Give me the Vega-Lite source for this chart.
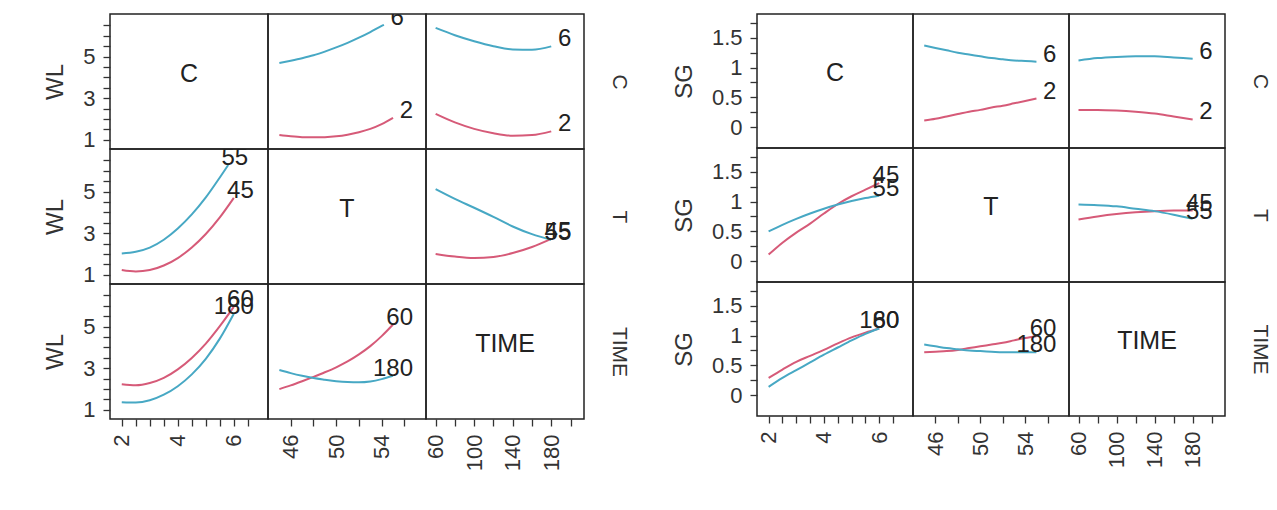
{
  "$schema": "https://vega.github.io/schema/vega-lite/v6.json",
  "padding": {"left": 43, "top": 11, "right": 5, "bottom": 5},
  "config": {
    "font": "Liberation Sans",
    "view": {"stroke": "#222", "strokeWidth": 1.5},
    "axis": {"domain": false, "grid": false, "tickColor": "#333", "tickWidth": 1.3, "tickSize": 7, "labelFontSize": 22, "labelColor": "#333", "labelPadding": 8, "labelOverlap": false, "labelFlush": false, "labelBound": false, "titleFontSize": 24, "titleFontWeight": "normal", "titleColor": "#333", "titlePadding": 15}
  },
  "datasets": {
    "d": [
      {"m":"WL","r":"C","c":"T","lvl":"2","x":45,"y":1.22},{"m":"WL","r":"C","c":"T","lvl":"2","x":46,"y":1.16},{"m":"WL","r":"C","c":"T","lvl":"2","x":47,"y":1.12},{"m":"WL","r":"C","c":"T","lvl":"2","x":48,"y":1.11},{"m":"WL","r":"C","c":"T","lvl":"2","x":49,"y":1.12},{"m":"WL","r":"C","c":"T","lvl":"2","x":50,"y":1.16},{"m":"WL","r":"C","c":"T","lvl":"2","x":51,"y":1.24},{"m":"WL","r":"C","c":"T","lvl":"2","x":52,"y":1.36},{"m":"WL","r":"C","c":"T","lvl":"2","x":53,"y":1.52},{"m":"WL","r":"C","c":"T","lvl":"2","x":54,"y":1.75},{"m":"WL","r":"C","c":"T","lvl":"2","x":55,"y":2.05},
      {"m":"WL","r":"C","c":"T","lvl":"6","x":45,"y":4.69},{"m":"WL","r":"C","c":"T","lvl":"6","x":46,"y":4.80},{"m":"WL","r":"C","c":"T","lvl":"6","x":47,"y":4.92},{"m":"WL","r":"C","c":"T","lvl":"6","x":48,"y":5.06},{"m":"WL","r":"C","c":"T","lvl":"6","x":49,"y":5.24},{"m":"WL","r":"C","c":"T","lvl":"6","x":50,"y":5.44},{"m":"WL","r":"C","c":"T","lvl":"6","x":51,"y":5.66},{"m":"WL","r":"C","c":"T","lvl":"6","x":52,"y":5.91},{"m":"WL","r":"C","c":"T","lvl":"6","x":53,"y":6.18},{"m":"WL","r":"C","c":"T","lvl":"6","x":54,"y":6.48},{"m":"WL","r":"C","c":"T","lvl":"6","x":54.2,"y":6.53},
      {"m":"WL","r":"C","c":"TIME","lvl":"2","x":60,"y":2.24},{"m":"WL","r":"C","c":"TIME","lvl":"2","x":80,"y":1.83},{"m":"WL","r":"C","c":"TIME","lvl":"2","x":100,"y":1.52},{"m":"WL","r":"C","c":"TIME","lvl":"2","x":120,"y":1.31},{"m":"WL","r":"C","c":"TIME","lvl":"2","x":140,"y":1.19},{"m":"WL","r":"C","c":"TIME","lvl":"2","x":160,"y":1.22},{"m":"WL","r":"C","c":"TIME","lvl":"2","x":180,"y":1.40},
      {"m":"WL","r":"C","c":"TIME","lvl":"6","x":60,"y":6.38},{"m":"WL","r":"C","c":"TIME","lvl":"6","x":80,"y":6.03},{"m":"WL","r":"C","c":"TIME","lvl":"6","x":100,"y":5.74},{"m":"WL","r":"C","c":"TIME","lvl":"6","x":120,"y":5.50},{"m":"WL","r":"C","c":"TIME","lvl":"6","x":140,"y":5.34},{"m":"WL","r":"C","c":"TIME","lvl":"6","x":160,"y":5.33},{"m":"WL","r":"C","c":"TIME","lvl":"6","x":180,"y":5.49},
      {"m":"WL","r":"T","c":"C","lvl":"45","x":2,"y":1.22},{"m":"WL","r":"T","c":"C","lvl":"45","x":2.5,"y":1.15},{"m":"WL","r":"T","c":"C","lvl":"45","x":3,"y":1.22},{"m":"WL","r":"T","c":"C","lvl":"45","x":3.5,"y":1.44},{"m":"WL","r":"T","c":"C","lvl":"45","x":4,"y":1.80},{"m":"WL","r":"T","c":"C","lvl":"45","x":4.5,"y":2.31},{"m":"WL","r":"T","c":"C","lvl":"45","x":5,"y":2.96},{"m":"WL","r":"T","c":"C","lvl":"45","x":5.5,"y":3.76},{"m":"WL","r":"T","c":"C","lvl":"45","x":6,"y":4.70},
      {"m":"WL","r":"T","c":"C","lvl":"55","x":2,"y":2.02},{"m":"WL","r":"T","c":"C","lvl":"55","x":2.5,"y":2.10},{"m":"WL","r":"T","c":"C","lvl":"55","x":3,"y":2.30},{"m":"WL","r":"T","c":"C","lvl":"55","x":3.5,"y":2.68},{"m":"WL","r":"T","c":"C","lvl":"55","x":4,"y":3.22},{"m":"WL","r":"T","c":"C","lvl":"55","x":4.5,"y":3.90},{"m":"WL","r":"T","c":"C","lvl":"55","x":5,"y":4.72},{"m":"WL","r":"T","c":"C","lvl":"55","x":5.5,"y":5.68},{"m":"WL","r":"T","c":"C","lvl":"55","x":5.8,"y":6.28},
      {"m":"WL","r":"T","c":"TIME","lvl":"45","x":60,"y":2.00},{"m":"WL","r":"T","c":"TIME","lvl":"45","x":80,"y":1.87},{"m":"WL","r":"T","c":"TIME","lvl":"45","x":100,"y":1.80},{"m":"WL","r":"T","c":"TIME","lvl":"45","x":120,"y":1.85},{"m":"WL","r":"T","c":"TIME","lvl":"45","x":140,"y":2.04},{"m":"WL","r":"T","c":"TIME","lvl":"45","x":160,"y":2.33},{"m":"WL","r":"T","c":"TIME","lvl":"45","x":180,"y":2.72},
      {"m":"WL","r":"T","c":"TIME","lvl":"55","x":60,"y":5.12},{"m":"WL","r":"T","c":"TIME","lvl":"55","x":80,"y":4.65},{"m":"WL","r":"T","c":"TIME","lvl":"55","x":100,"y":4.22},{"m":"WL","r":"T","c":"TIME","lvl":"55","x":120,"y":3.78},{"m":"WL","r":"T","c":"TIME","lvl":"55","x":140,"y":3.32},{"m":"WL","r":"T","c":"TIME","lvl":"55","x":160,"y":2.95},{"m":"WL","r":"T","c":"TIME","lvl":"55","x":180,"y":2.68},
      {"m":"WL","r":"TIME","c":"C","lvl":"60","x":2,"y":2.22},{"m":"WL","r":"TIME","c":"C","lvl":"60","x":2.5,"y":2.17},{"m":"WL","r":"TIME","c":"C","lvl":"60","x":3,"y":2.28},{"m":"WL","r":"TIME","c":"C","lvl":"60","x":3.5,"y":2.53},{"m":"WL","r":"TIME","c":"C","lvl":"60","x":4,"y":2.94},{"m":"WL","r":"TIME","c":"C","lvl":"60","x":4.5,"y":3.49},{"m":"WL","r":"TIME","c":"C","lvl":"60","x":5,"y":4.18},{"m":"WL","r":"TIME","c":"C","lvl":"60","x":5.5,"y":5.02},{"m":"WL","r":"TIME","c":"C","lvl":"60","x":6,"y":5.95},
      {"m":"WL","r":"TIME","c":"C","lvl":"180","x":2,"y":1.36},{"m":"WL","r":"TIME","c":"C","lvl":"180","x":2.5,"y":1.34},{"m":"WL","r":"TIME","c":"C","lvl":"180","x":3,"y":1.45},{"m":"WL","r":"TIME","c":"C","lvl":"180","x":3.5,"y":1.72},{"m":"WL","r":"TIME","c":"C","lvl":"180","x":4,"y":2.13},{"m":"WL","r":"TIME","c":"C","lvl":"180","x":4.5,"y":2.70},{"m":"WL","r":"TIME","c":"C","lvl":"180","x":5,"y":3.45},{"m":"WL","r":"TIME","c":"C","lvl":"180","x":5.5,"y":4.42},{"m":"WL","r":"TIME","c":"C","lvl":"180","x":6,"y":5.62},
      {"m":"WL","r":"TIME","c":"T","lvl":"60","x":45,"y":1.99},{"m":"WL","r":"TIME","c":"T","lvl":"60","x":46,"y":2.17},{"m":"WL","r":"TIME","c":"T","lvl":"60","x":47,"y":2.37},{"m":"WL","r":"TIME","c":"T","lvl":"60","x":48,"y":2.58},{"m":"WL","r":"TIME","c":"T","lvl":"60","x":49,"y":2.80},{"m":"WL","r":"TIME","c":"T","lvl":"60","x":50,"y":3.04},{"m":"WL","r":"TIME","c":"T","lvl":"60","x":51,"y":3.32},{"m":"WL","r":"TIME","c":"T","lvl":"60","x":52,"y":3.66},{"m":"WL","r":"TIME","c":"T","lvl":"60","x":53,"y":4.06},{"m":"WL","r":"TIME","c":"T","lvl":"60","x":54,"y":4.54},{"m":"WL","r":"TIME","c":"T","lvl":"60","x":55,"y":5.10},
      {"m":"WL","r":"TIME","c":"T","lvl":"180","x":45,"y":2.91},{"m":"WL","r":"TIME","c":"T","lvl":"180","x":46,"y":2.76},{"m":"WL","r":"TIME","c":"T","lvl":"180","x":47,"y":2.63},{"m":"WL","r":"TIME","c":"T","lvl":"180","x":48,"y":2.52},{"m":"WL","r":"TIME","c":"T","lvl":"180","x":49,"y":2.44},{"m":"WL","r":"TIME","c":"T","lvl":"180","x":50,"y":2.37},{"m":"WL","r":"TIME","c":"T","lvl":"180","x":51,"y":2.33},{"m":"WL","r":"TIME","c":"T","lvl":"180","x":52,"y":2.32},{"m":"WL","r":"TIME","c":"T","lvl":"180","x":53,"y":2.36},{"m":"WL","r":"TIME","c":"T","lvl":"180","x":54,"y":2.47},{"m":"WL","r":"TIME","c":"T","lvl":"180","x":55,"y":2.63},
      {"m":"SG","r":"C","c":"T","lvl":"2","x":45,"y":0.11},{"m":"SG","r":"C","c":"T","lvl":"2","x":46,"y":0.14},{"m":"SG","r":"C","c":"T","lvl":"2","x":47,"y":0.18},{"m":"SG","r":"C","c":"T","lvl":"2","x":48,"y":0.22},{"m":"SG","r":"C","c":"T","lvl":"2","x":49,"y":0.26},{"m":"SG","r":"C","c":"T","lvl":"2","x":50,"y":0.29},{"m":"SG","r":"C","c":"T","lvl":"2","x":51,"y":0.33},{"m":"SG","r":"C","c":"T","lvl":"2","x":52,"y":0.36},{"m":"SG","r":"C","c":"T","lvl":"2","x":53,"y":0.40},{"m":"SG","r":"C","c":"T","lvl":"2","x":54,"y":0.44},{"m":"SG","r":"C","c":"T","lvl":"2","x":55,"y":0.48},
      {"m":"SG","r":"C","c":"T","lvl":"6","x":45,"y":1.37},{"m":"SG","r":"C","c":"T","lvl":"6","x":46,"y":1.33},{"m":"SG","r":"C","c":"T","lvl":"6","x":47,"y":1.29},{"m":"SG","r":"C","c":"T","lvl":"6","x":48,"y":1.25},{"m":"SG","r":"C","c":"T","lvl":"6","x":49,"y":1.22},{"m":"SG","r":"C","c":"T","lvl":"6","x":50,"y":1.19},{"m":"SG","r":"C","c":"T","lvl":"6","x":51,"y":1.16},{"m":"SG","r":"C","c":"T","lvl":"6","x":52,"y":1.14},{"m":"SG","r":"C","c":"T","lvl":"6","x":53,"y":1.12},{"m":"SG","r":"C","c":"T","lvl":"6","x":54,"y":1.11},{"m":"SG","r":"C","c":"T","lvl":"6","x":55,"y":1.10},
      {"m":"SG","r":"C","c":"TIME","lvl":"2","x":60,"y":0.29},{"m":"SG","r":"C","c":"TIME","lvl":"2","x":80,"y":0.29},{"m":"SG","r":"C","c":"TIME","lvl":"2","x":100,"y":0.28},{"m":"SG","r":"C","c":"TIME","lvl":"2","x":120,"y":0.26},{"m":"SG","r":"C","c":"TIME","lvl":"2","x":140,"y":0.23},{"m":"SG","r":"C","c":"TIME","lvl":"2","x":160,"y":0.18},{"m":"SG","r":"C","c":"TIME","lvl":"2","x":180,"y":0.13},
      {"m":"SG","r":"C","c":"TIME","lvl":"6","x":60,"y":1.12},{"m":"SG","r":"C","c":"TIME","lvl":"6","x":80,"y":1.16},{"m":"SG","r":"C","c":"TIME","lvl":"6","x":100,"y":1.18},{"m":"SG","r":"C","c":"TIME","lvl":"6","x":120,"y":1.19},{"m":"SG","r":"C","c":"TIME","lvl":"6","x":140,"y":1.19},{"m":"SG","r":"C","c":"TIME","lvl":"6","x":160,"y":1.17},{"m":"SG","r":"C","c":"TIME","lvl":"6","x":180,"y":1.15},
      {"m":"SG","r":"T","c":"C","lvl":"45","x":2,"y":0.11},{"m":"SG","r":"T","c":"C","lvl":"45","x":2.5,"y":0.31},{"m":"SG","r":"T","c":"C","lvl":"45","x":3,"y":0.48},{"m":"SG","r":"T","c":"C","lvl":"45","x":3.5,"y":0.63},{"m":"SG","r":"T","c":"C","lvl":"45","x":4,"y":0.80},{"m":"SG","r":"T","c":"C","lvl":"45","x":4.5,"y":0.96},{"m":"SG","r":"T","c":"C","lvl":"45","x":5,"y":1.09},{"m":"SG","r":"T","c":"C","lvl":"45","x":5.5,"y":1.20},{"m":"SG","r":"T","c":"C","lvl":"45","x":6,"y":1.31},
      {"m":"SG","r":"T","c":"C","lvl":"55","x":2,"y":0.50},{"m":"SG","r":"T","c":"C","lvl":"55","x":2.5,"y":0.61},{"m":"SG","r":"T","c":"C","lvl":"55","x":3,"y":0.71},{"m":"SG","r":"T","c":"C","lvl":"55","x":3.5,"y":0.80},{"m":"SG","r":"T","c":"C","lvl":"55","x":4,"y":0.88},{"m":"SG","r":"T","c":"C","lvl":"55","x":4.5,"y":0.95},{"m":"SG","r":"T","c":"C","lvl":"55","x":5,"y":1.01},{"m":"SG","r":"T","c":"C","lvl":"55","x":5.5,"y":1.06},{"m":"SG","r":"T","c":"C","lvl":"55","x":6,"y":1.10},
      {"m":"SG","r":"T","c":"TIME","lvl":"45","x":60,"y":0.70},{"m":"SG","r":"T","c":"TIME","lvl":"45","x":80,"y":0.75},{"m":"SG","r":"T","c":"TIME","lvl":"45","x":100,"y":0.79},{"m":"SG","r":"T","c":"TIME","lvl":"45","x":120,"y":0.82},{"m":"SG","r":"T","c":"TIME","lvl":"45","x":140,"y":0.84},{"m":"SG","r":"T","c":"TIME","lvl":"45","x":160,"y":0.85},{"m":"SG","r":"T","c":"TIME","lvl":"45","x":180,"y":0.85},
      {"m":"SG","r":"T","c":"TIME","lvl":"55","x":60,"y":0.95},{"m":"SG","r":"T","c":"TIME","lvl":"55","x":80,"y":0.94},{"m":"SG","r":"T","c":"TIME","lvl":"55","x":100,"y":0.92},{"m":"SG","r":"T","c":"TIME","lvl":"55","x":120,"y":0.88},{"m":"SG","r":"T","c":"TIME","lvl":"55","x":140,"y":0.84},{"m":"SG","r":"T","c":"TIME","lvl":"55","x":160,"y":0.78},{"m":"SG","r":"T","c":"TIME","lvl":"55","x":180,"y":0.71},
      {"m":"SG","r":"TIME","c":"C","lvl":"60","x":2,"y":0.29},{"m":"SG","r":"TIME","c":"C","lvl":"60","x":2.5,"y":0.43},{"m":"SG","r":"TIME","c":"C","lvl":"60","x":3,"y":0.56},{"m":"SG","r":"TIME","c":"C","lvl":"60","x":3.5,"y":0.66},{"m":"SG","r":"TIME","c":"C","lvl":"60","x":4,"y":0.76},{"m":"SG","r":"TIME","c":"C","lvl":"60","x":4.5,"y":0.87},{"m":"SG","r":"TIME","c":"C","lvl":"60","x":5,"y":0.97},{"m":"SG","r":"TIME","c":"C","lvl":"60","x":5.5,"y":1.05},{"m":"SG","r":"TIME","c":"C","lvl":"60","x":6,"y":1.12},
      {"m":"SG","r":"TIME","c":"C","lvl":"180","x":2,"y":0.14},{"m":"SG","r":"TIME","c":"C","lvl":"180","x":2.5,"y":0.29},{"m":"SG","r":"TIME","c":"C","lvl":"180","x":3,"y":0.42},{"m":"SG","r":"TIME","c":"C","lvl":"180","x":3.5,"y":0.55},{"m":"SG","r":"TIME","c":"C","lvl":"180","x":4,"y":0.68},{"m":"SG","r":"TIME","c":"C","lvl":"180","x":4.5,"y":0.80},{"m":"SG","r":"TIME","c":"C","lvl":"180","x":5,"y":0.92},{"m":"SG","r":"TIME","c":"C","lvl":"180","x":5.5,"y":1.03},{"m":"SG","r":"TIME","c":"C","lvl":"180","x":6,"y":1.12},
      {"m":"SG","r":"TIME","c":"T","lvl":"60","x":45,"y":0.72},{"m":"SG","r":"TIME","c":"T","lvl":"60","x":46,"y":0.73},{"m":"SG","r":"TIME","c":"T","lvl":"60","x":47,"y":0.74},{"m":"SG","r":"TIME","c":"T","lvl":"60","x":48,"y":0.76},{"m":"SG","r":"TIME","c":"T","lvl":"60","x":49,"y":0.79},{"m":"SG","r":"TIME","c":"T","lvl":"60","x":50,"y":0.82},{"m":"SG","r":"TIME","c":"T","lvl":"60","x":51,"y":0.85},{"m":"SG","r":"TIME","c":"T","lvl":"60","x":52,"y":0.88},{"m":"SG","r":"TIME","c":"T","lvl":"60","x":53,"y":0.92},{"m":"SG","r":"TIME","c":"T","lvl":"60","x":54,"y":0.96},{"m":"SG","r":"TIME","c":"T","lvl":"60","x":55,"y":0.99},
      {"m":"SG","r":"TIME","c":"T","lvl":"180","x":45,"y":0.85},{"m":"SG","r":"TIME","c":"T","lvl":"180","x":46,"y":0.82},{"m":"SG","r":"TIME","c":"T","lvl":"180","x":47,"y":0.79},{"m":"SG","r":"TIME","c":"T","lvl":"180","x":48,"y":0.77},{"m":"SG","r":"TIME","c":"T","lvl":"180","x":49,"y":0.75},{"m":"SG","r":"TIME","c":"T","lvl":"180","x":50,"y":0.74},{"m":"SG","r":"TIME","c":"T","lvl":"180","x":51,"y":0.73},{"m":"SG","r":"TIME","c":"T","lvl":"180","x":52,"y":0.72},{"m":"SG","r":"TIME","c":"T","lvl":"180","x":53,"y":0.72},{"m":"SG","r":"TIME","c":"T","lvl":"180","x":54,"y":0.72},{"m":"SG","r":"TIME","c":"T","lvl":"180","x":55,"y":0.72}
    ]
  },
  "spacing": 41,
  "hconcat": [
    {
      "columns": 3, "spacing": 0, "bounds": "flush",
      "resolve": {"scale": {"x": "independent", "y": "independent", "color": "independent"}},
      "concat": [
        {"width": 158, "height": 135, "data": {"values": [{"t": "C"}]},
         "mark": {"type": "text", "fontSize": 25, "baseline": "alphabetic", "color": "#222"},
         "encoding": {"x": {"datum": 4.4, "type": "quantitative", "scale": {"domain": [1.58, 7.22], "nice": false, "zero": false}, "axis": null},
                      "y": {"datum": 3.8, "type": "quantitative", "scale": {"domain": [0.55, 7.05], "nice": false, "zero": false}, "axis": {"title": "WL", "values": [1,1.5,2,2.5,3,3.5,4,4.5,5,5.5,6,6.5], "labelExpr": "(datum.value-1)%2===0 ? ''+datum.value : ''"}},
                      "text": {"field": "t"}}},
        {"width": 158, "height": 135, "data": {"name": "d"},
         "transform": [{"filter": "datum.m==='WL'&&datum.r==='C'&&datum.c==='T'"}],
         "encoding": {"x": {"field": "x", "type": "quantitative", "scale": {"domain": [44, 57.9], "nice": false, "zero": false}, "axis": null},
                      "y": {"field": "y", "type": "quantitative", "scale": {"domain": [0.55, 7.05], "nice": false, "zero": false}, "axis": null}},
         "layer": [
           {"mark": {"type": "line", "interpolate": "monotone", "strokeWidth": 2, "clip": true}, "encoding": {"color": {"field": "lvl", "type": "nominal", "scale": {"domain": ["2","6","45","55","60","180"], "range": ["#d65a78","#47a8c4","#d65a78","#47a8c4","#d65a78","#47a8c4"]}, "legend": null}}},
           {"transform": [{"joinaggregate": [{"op": "max", "field": "x", "as": "xm"}], "groupby": ["lvl"]}, {"filter": "datum.x===datum.xm"}],
            "mark": {"type": "text", "align": "right", "baseline": "alphabetic", "dx": 20, "fontSize": 24, "clip": true, "color": "#222"}, "encoding": {"text": {"field": "lvl"}}}
         ]},
        {"width": 158, "height": 135, "data": {"name": "d"},
         "transform": [{"filter": "datum.m==='WL'&&datum.r==='C'&&datum.c==='TIME'"}],
         "encoding": {"x": {"field": "x", "type": "quantitative", "scale": {"domain": [50, 214], "nice": false, "zero": false}, "axis": null},
                      "y": {"field": "y", "type": "quantitative", "scale": {"domain": [0.55, 7.05], "nice": false, "zero": false}, "axis": {"orient": "right", "title": "C", "labels": false, "ticks": false, "titleAngle": 90, "titlePadding": 24, "titleFontSize": 21}}},
         "layer": [
           {"mark": {"type": "line", "interpolate": "monotone", "strokeWidth": 2, "clip": true}, "encoding": {"color": {"field": "lvl", "type": "nominal", "scale": {"domain": ["2","6","45","55","60","180"], "range": ["#d65a78","#47a8c4","#d65a78","#47a8c4","#d65a78","#47a8c4"]}, "legend": null}}},
           {"transform": [{"joinaggregate": [{"op": "max", "field": "x", "as": "xm"}], "groupby": ["lvl"]}, {"filter": "datum.x===datum.xm"}],
            "mark": {"type": "text", "align": "right", "baseline": "alphabetic", "dx": 20, "fontSize": 24, "clip": true, "color": "#222"}, "encoding": {"text": {"field": "lvl"}}}
         ]},
        {"width": 158, "height": 135, "data": {"name": "d"},
         "transform": [{"filter": "datum.m==='WL'&&datum.r==='T'&&datum.c==='C'"}],
         "encoding": {"x": {"field": "x", "type": "quantitative", "scale": {"domain": [1.58, 7.22], "nice": false, "zero": false}, "axis": null},
                      "y": {"field": "y", "type": "quantitative", "scale": {"domain": [0.55, 7.05], "nice": false, "zero": false}, "axis": {"title": "WL", "values": [1,1.5,2,2.5,3,3.5,4,4.5,5,5.5,6,6.5], "labelExpr": "(datum.value-1)%2===0 ? ''+datum.value : ''"}}},
         "layer": [
           {"mark": {"type": "line", "interpolate": "monotone", "strokeWidth": 2, "clip": true}, "encoding": {"color": {"field": "lvl", "type": "nominal", "scale": {"domain": ["2","6","45","55","60","180"], "range": ["#d65a78","#47a8c4","#d65a78","#47a8c4","#d65a78","#47a8c4"]}, "legend": null}}},
           {"transform": [{"joinaggregate": [{"op": "max", "field": "x", "as": "xm"}], "groupby": ["lvl"]}, {"filter": "datum.x===datum.xm"}],
            "mark": {"type": "text", "align": "right", "baseline": "alphabetic", "dx": 20, "fontSize": 24, "clip": true, "color": "#222"}, "encoding": {"text": {"field": "lvl"}}}
         ]},
        {"width": 158, "height": 135, "data": {"values": [{"t": "T"}]},
         "mark": {"type": "text", "fontSize": 25, "baseline": "alphabetic", "color": "#222"},
         "encoding": {"x": {"datum": 50.95, "type": "quantitative", "scale": {"domain": [44, 57.9], "nice": false, "zero": false}, "axis": null},
                      "y": {"datum": 3.8, "type": "quantitative", "scale": {"domain": [0.55, 7.05], "nice": false, "zero": false}, "axis": null},
                      "text": {"field": "t"}}},
        {"width": 158, "height": 135, "data": {"name": "d"},
         "transform": [{"filter": "datum.m==='WL'&&datum.r==='T'&&datum.c==='TIME'"}],
         "encoding": {"x": {"field": "x", "type": "quantitative", "scale": {"domain": [50, 214], "nice": false, "zero": false}, "axis": null},
                      "y": {"field": "y", "type": "quantitative", "scale": {"domain": [0.55, 7.05], "nice": false, "zero": false}, "axis": {"orient": "right", "title": "T", "labels": false, "ticks": false, "titleAngle": 90, "titlePadding": 24, "titleFontSize": 21}}},
         "layer": [
           {"mark": {"type": "line", "interpolate": "monotone", "strokeWidth": 2, "clip": true}, "encoding": {"color": {"field": "lvl", "type": "nominal", "scale": {"domain": ["2","6","45","55","60","180"], "range": ["#d65a78","#47a8c4","#d65a78","#47a8c4","#d65a78","#47a8c4"]}, "legend": null}}},
           {"transform": [{"joinaggregate": [{"op": "max", "field": "x", "as": "xm"}], "groupby": ["lvl"]}, {"filter": "datum.x===datum.xm"}],
            "mark": {"type": "text", "align": "right", "baseline": "alphabetic", "dx": 20, "fontSize": 24, "clip": true, "color": "#222"}, "encoding": {"text": {"field": "lvl"}}}
         ]},
        {"width": 158, "height": 135, "data": {"name": "d"},
         "transform": [{"filter": "datum.m==='WL'&&datum.r==='TIME'&&datum.c==='C'"}],
         "encoding": {"x": {"field": "x", "type": "quantitative", "scale": {"domain": [1.58, 7.22], "nice": false, "zero": false}, "axis": {"title": null, "values": [2,2.5,3,3.5,4,4.5,5,5.5,6,6.5], "labelExpr": "datum.value%2===0 ? ''+datum.value : ''", "labelAngle": -90}},
                      "y": {"field": "y", "type": "quantitative", "scale": {"domain": [0.55, 7.05], "nice": false, "zero": false}, "axis": {"title": "WL", "values": [1,1.5,2,2.5,3,3.5,4,4.5,5,5.5,6,6.5], "labelExpr": "(datum.value-1)%2===0 ? ''+datum.value : ''"}}},
         "layer": [
           {"mark": {"type": "line", "interpolate": "monotone", "strokeWidth": 2, "clip": true}, "encoding": {"color": {"field": "lvl", "type": "nominal", "scale": {"domain": ["2","6","45","55","60","180"], "range": ["#d65a78","#47a8c4","#d65a78","#47a8c4","#d65a78","#47a8c4"]}, "legend": null}}},
           {"transform": [{"joinaggregate": [{"op": "max", "field": "x", "as": "xm"}], "groupby": ["lvl"]}, {"filter": "datum.x===datum.xm"}],
            "mark": {"type": "text", "align": "right", "baseline": "alphabetic", "dx": 20, "fontSize": 24, "clip": true, "color": "#222"}, "encoding": {"text": {"field": "lvl"}}}
         ]},
        {"width": 158, "height": 135, "data": {"name": "d"},
         "transform": [{"filter": "datum.m==='WL'&&datum.r==='TIME'&&datum.c==='T'"}],
         "encoding": {"x": {"field": "x", "type": "quantitative", "scale": {"domain": [44, 57.9], "nice": false, "zero": false}, "axis": {"title": null, "values": [46,48,50,52,54,56], "labelExpr": "(datum.value-46)%4===0 ? ''+datum.value : ''", "labelAngle": -90}},
                      "y": {"field": "y", "type": "quantitative", "scale": {"domain": [0.55, 7.05], "nice": false, "zero": false}, "axis": null}},
         "layer": [
           {"mark": {"type": "line", "interpolate": "monotone", "strokeWidth": 2, "clip": true}, "encoding": {"color": {"field": "lvl", "type": "nominal", "scale": {"domain": ["2","6","45","55","60","180"], "range": ["#d65a78","#47a8c4","#d65a78","#47a8c4","#d65a78","#47a8c4"]}, "legend": null}}},
           {"transform": [{"joinaggregate": [{"op": "max", "field": "x", "as": "xm"}], "groupby": ["lvl"]}, {"filter": "datum.x===datum.xm"}],
            "mark": {"type": "text", "align": "right", "baseline": "alphabetic", "dx": 20, "fontSize": 24, "clip": true, "color": "#222"}, "encoding": {"text": {"field": "lvl"}}}
         ]},
        {"width": 158, "height": 135, "data": {"values": [{"t": "TIME"}]},
         "mark": {"type": "text", "fontSize": 25, "baseline": "alphabetic", "color": "#222"},
         "encoding": {"x": {"datum": 132, "type": "quantitative", "scale": {"domain": [50, 214], "nice": false, "zero": false}, "axis": {"title": null, "values": [60,80,100,120,140,160,180,200], "labelExpr": "(datum.value-60)%40===0 ? ''+datum.value : ''", "labelAngle": -90}},
                      "y": {"datum": 3.8, "type": "quantitative", "scale": {"domain": [0.55, 7.05], "nice": false, "zero": false}, "axis": {"orient": "right", "title": "TIME", "labels": false, "ticks": false, "titleAngle": 90, "titlePadding": 24, "titleFontSize": 21}},
                      "text": {"field": "t"}}}
      ]
    },
    {
      "columns": 3, "spacing": 0, "bounds": "flush",
      "resolve": {"scale": {"x": "independent", "y": "independent", "color": "independent"}},
      "concat": [
        {"width": 156, "height": 134, "data": {"values": [{"t": "C"}]},
         "mark": {"type": "text", "fontSize": 25, "baseline": "alphabetic", "color": "#222"},
         "encoding": {"x": {"datum": 4.4, "type": "quantitative", "scale": {"domain": [1.58, 7.22], "nice": false, "zero": false}, "axis": null},
                      "y": {"datum": 0.775, "type": "quantitative", "scale": {"domain": [-0.35, 1.9], "nice": false, "zero": false}, "axis": {"title": "SG", "values": [0,0.25,0.5,0.75,1,1.25,1.5,1.75], "labelExpr": "datum.value%0.5===0 ? ''+datum.value : ''"}},
                      "text": {"field": "t"}}},
        {"width": 156, "height": 134, "data": {"name": "d"},
         "transform": [{"filter": "datum.m==='SG'&&datum.r==='C'&&datum.c==='T'"}],
         "encoding": {"x": {"field": "x", "type": "quantitative", "scale": {"domain": [44, 57.9], "nice": false, "zero": false}, "axis": null},
                      "y": {"field": "y", "type": "quantitative", "scale": {"domain": [-0.35, 1.9], "nice": false, "zero": false}, "axis": null}},
         "layer": [
           {"mark": {"type": "line", "interpolate": "monotone", "strokeWidth": 2, "clip": true}, "encoding": {"color": {"field": "lvl", "type": "nominal", "scale": {"domain": ["2","6","45","55","60","180"], "range": ["#d65a78","#47a8c4","#d65a78","#47a8c4","#d65a78","#47a8c4"]}, "legend": null}}},
           {"transform": [{"joinaggregate": [{"op": "max", "field": "x", "as": "xm"}], "groupby": ["lvl"]}, {"filter": "datum.x===datum.xm"}],
            "mark": {"type": "text", "align": "right", "baseline": "alphabetic", "dx": 20, "fontSize": 24, "clip": true, "color": "#222"}, "encoding": {"text": {"field": "lvl"}}}
         ]},
        {"width": 156, "height": 134, "data": {"name": "d"},
         "transform": [{"filter": "datum.m==='SG'&&datum.r==='C'&&datum.c==='TIME'"}],
         "encoding": {"x": {"field": "x", "type": "quantitative", "scale": {"domain": [50, 214], "nice": false, "zero": false}, "axis": null},
                      "y": {"field": "y", "type": "quantitative", "scale": {"domain": [-0.35, 1.9], "nice": false, "zero": false}, "axis": {"orient": "right", "title": "C", "labels": false, "ticks": false, "titleAngle": 90, "titlePadding": 24, "titleFontSize": 21}}},
         "layer": [
           {"mark": {"type": "line", "interpolate": "monotone", "strokeWidth": 2, "clip": true}, "encoding": {"color": {"field": "lvl", "type": "nominal", "scale": {"domain": ["2","6","45","55","60","180"], "range": ["#d65a78","#47a8c4","#d65a78","#47a8c4","#d65a78","#47a8c4"]}, "legend": null}}},
           {"transform": [{"joinaggregate": [{"op": "max", "field": "x", "as": "xm"}], "groupby": ["lvl"]}, {"filter": "datum.x===datum.xm"}],
            "mark": {"type": "text", "align": "right", "baseline": "alphabetic", "dx": 20, "fontSize": 24, "clip": true, "color": "#222"}, "encoding": {"text": {"field": "lvl"}}}
         ]},
        {"width": 156, "height": 134, "data": {"name": "d"},
         "transform": [{"filter": "datum.m==='SG'&&datum.r==='T'&&datum.c==='C'"}],
         "encoding": {"x": {"field": "x", "type": "quantitative", "scale": {"domain": [1.58, 7.22], "nice": false, "zero": false}, "axis": null},
                      "y": {"field": "y", "type": "quantitative", "scale": {"domain": [-0.35, 1.9], "nice": false, "zero": false}, "axis": {"title": "SG", "values": [0,0.25,0.5,0.75,1,1.25,1.5,1.75], "labelExpr": "datum.value%0.5===0 ? ''+datum.value : ''"}}},
         "layer": [
           {"mark": {"type": "line", "interpolate": "monotone", "strokeWidth": 2, "clip": true}, "encoding": {"color": {"field": "lvl", "type": "nominal", "scale": {"domain": ["2","6","45","55","60","180"], "range": ["#d65a78","#47a8c4","#d65a78","#47a8c4","#d65a78","#47a8c4"]}, "legend": null}}},
           {"transform": [{"joinaggregate": [{"op": "max", "field": "x", "as": "xm"}], "groupby": ["lvl"]}, {"filter": "datum.x===datum.xm"}],
            "mark": {"type": "text", "align": "right", "baseline": "alphabetic", "dx": 20, "fontSize": 24, "clip": true, "color": "#222"}, "encoding": {"text": {"field": "lvl"}}}
         ]},
        {"width": 156, "height": 134, "data": {"values": [{"t": "T"}]},
         "mark": {"type": "text", "fontSize": 25, "baseline": "alphabetic", "color": "#222"},
         "encoding": {"x": {"datum": 50.95, "type": "quantitative", "scale": {"domain": [44, 57.9], "nice": false, "zero": false}, "axis": null},
                      "y": {"datum": 0.775, "type": "quantitative", "scale": {"domain": [-0.35, 1.9], "nice": false, "zero": false}, "axis": null},
                      "text": {"field": "t"}}},
        {"width": 156, "height": 134, "data": {"name": "d"},
         "transform": [{"filter": "datum.m==='SG'&&datum.r==='T'&&datum.c==='TIME'"}],
         "encoding": {"x": {"field": "x", "type": "quantitative", "scale": {"domain": [50, 214], "nice": false, "zero": false}, "axis": null},
                      "y": {"field": "y", "type": "quantitative", "scale": {"domain": [-0.35, 1.9], "nice": false, "zero": false}, "axis": {"orient": "right", "title": "T", "labels": false, "ticks": false, "titleAngle": 90, "titlePadding": 24, "titleFontSize": 21}}},
         "layer": [
           {"mark": {"type": "line", "interpolate": "monotone", "strokeWidth": 2, "clip": true}, "encoding": {"color": {"field": "lvl", "type": "nominal", "scale": {"domain": ["2","6","45","55","60","180"], "range": ["#d65a78","#47a8c4","#d65a78","#47a8c4","#d65a78","#47a8c4"]}, "legend": null}}},
           {"transform": [{"joinaggregate": [{"op": "max", "field": "x", "as": "xm"}], "groupby": ["lvl"]}, {"filter": "datum.x===datum.xm"}],
            "mark": {"type": "text", "align": "right", "baseline": "alphabetic", "dx": 20, "fontSize": 24, "clip": true, "color": "#222"}, "encoding": {"text": {"field": "lvl"}}}
         ]},
        {"width": 156, "height": 134, "data": {"name": "d"},
         "transform": [{"filter": "datum.m==='SG'&&datum.r==='TIME'&&datum.c==='C'"}],
         "encoding": {"x": {"field": "x", "type": "quantitative", "scale": {"domain": [1.58, 7.22], "nice": false, "zero": false}, "axis": {"title": null, "values": [2,2.5,3,3.5,4,4.5,5,5.5,6,6.5], "labelExpr": "datum.value%2===0 ? ''+datum.value : ''", "labelAngle": -90}},
                      "y": {"field": "y", "type": "quantitative", "scale": {"domain": [-0.35, 1.9], "nice": false, "zero": false}, "axis": {"title": "SG", "values": [0,0.25,0.5,0.75,1,1.25,1.5,1.75], "labelExpr": "datum.value%0.5===0 ? ''+datum.value : ''"}}},
         "layer": [
           {"mark": {"type": "line", "interpolate": "monotone", "strokeWidth": 2, "clip": true}, "encoding": {"color": {"field": "lvl", "type": "nominal", "scale": {"domain": ["2","6","45","55","60","180"], "range": ["#d65a78","#47a8c4","#d65a78","#47a8c4","#d65a78","#47a8c4"]}, "legend": null}}},
           {"transform": [{"joinaggregate": [{"op": "max", "field": "x", "as": "xm"}], "groupby": ["lvl"]}, {"filter": "datum.x===datum.xm"}],
            "mark": {"type": "text", "align": "right", "baseline": "alphabetic", "dx": 20, "fontSize": 24, "clip": true, "color": "#222"}, "encoding": {"text": {"field": "lvl"}}}
         ]},
        {"width": 156, "height": 134, "data": {"name": "d"},
         "transform": [{"filter": "datum.m==='SG'&&datum.r==='TIME'&&datum.c==='T'"}],
         "encoding": {"x": {"field": "x", "type": "quantitative", "scale": {"domain": [44, 57.9], "nice": false, "zero": false}, "axis": {"title": null, "values": [46,48,50,52,54,56], "labelExpr": "(datum.value-46)%4===0 ? ''+datum.value : ''", "labelAngle": -90}},
                      "y": {"field": "y", "type": "quantitative", "scale": {"domain": [-0.35, 1.9], "nice": false, "zero": false}, "axis": null}},
         "layer": [
           {"mark": {"type": "line", "interpolate": "monotone", "strokeWidth": 2, "clip": true}, "encoding": {"color": {"field": "lvl", "type": "nominal", "scale": {"domain": ["2","6","45","55","60","180"], "range": ["#d65a78","#47a8c4","#d65a78","#47a8c4","#d65a78","#47a8c4"]}, "legend": null}}},
           {"transform": [{"joinaggregate": [{"op": "max", "field": "x", "as": "xm"}], "groupby": ["lvl"]}, {"filter": "datum.x===datum.xm"}],
            "mark": {"type": "text", "align": "right", "baseline": "alphabetic", "dx": 20, "fontSize": 24, "clip": true, "color": "#222"}, "encoding": {"text": {"field": "lvl"}}}
         ]},
        {"width": 156, "height": 134, "data": {"values": [{"t": "TIME"}]},
         "mark": {"type": "text", "fontSize": 25, "baseline": "alphabetic", "color": "#222"},
         "encoding": {"x": {"datum": 132, "type": "quantitative", "scale": {"domain": [50, 214], "nice": false, "zero": false}, "axis": {"title": null, "values": [60,80,100,120,140,160,180,200], "labelExpr": "(datum.value-60)%40===0 ? ''+datum.value : ''", "labelAngle": -90}},
                      "y": {"datum": 0.775, "type": "quantitative", "scale": {"domain": [-0.35, 1.9], "nice": false, "zero": false}, "axis": {"orient": "right", "title": "TIME", "labels": false, "ticks": false, "titleAngle": 90, "titlePadding": 24, "titleFontSize": 21}},
                      "text": {"field": "t"}}}
      ]
    }
  ]
}
